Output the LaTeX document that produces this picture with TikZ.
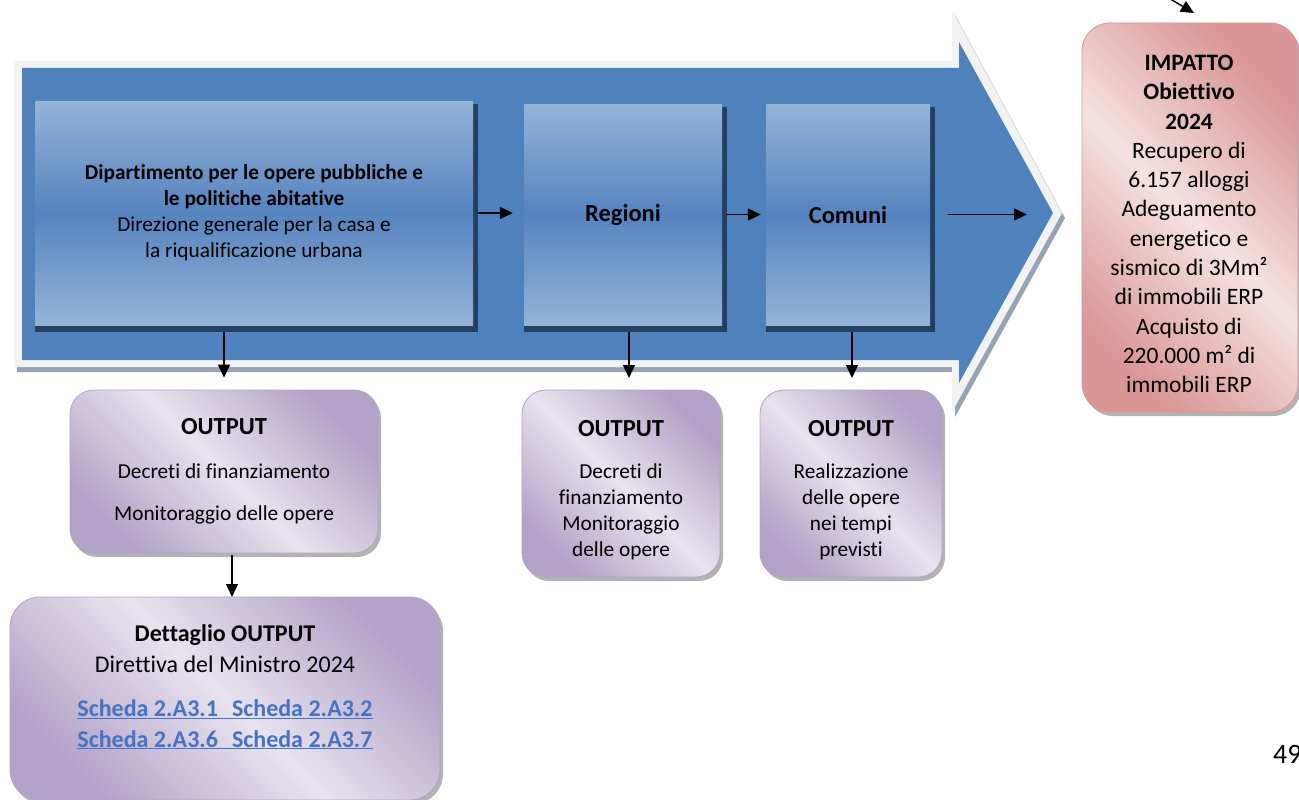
\documentclass[tikz,border=0pt]{standalone}
\usepackage{fontspec}
\setmainfont{Carlito}[Ligatures={NoCommon,NoRare}]
\usetikzlibrary{arrows.meta,shadows,calc}
\definecolor{arrowblue}{HTML}{4F81BD}
\definecolor{outl}{HTML}{F2F2F2}
\definecolor{outlsh}{HTML}{95A3B4}
\definecolor{boxlight}{HTML}{95B3D7}
\definecolor{boxmid}{HTML}{5683BF}
\definecolor{navy}{HTML}{243F60}
\definecolor{purpdark}{HTML}{B3A2C7}
\definecolor{purplight}{HTML}{E8E3EE}
\definecolor{pinkdark}{HTML}{D99694}
\definecolor{pinklight}{HTML}{F4E2E1}
\definecolor{linkblue}{HTML}{4472C4}
\newcommand\myfA{\fontsize{21.3}{26}\selectfont}
\newcommand\myfB{\fontsize{23.5}{29.3}\selectfont}
\newcommand\myfC{\fontsize{24}{30.5}\selectfont}
\newcommand\myfD{\fontsize{24.5}{26}\selectfont}
\begin{document}
\begin{tikzpicture}[x=1pt,y=-1pt,
  bluebox/.style={draw=none, top color=boxlight, bottom color=boxlight, middle color=boxmid, inner sep=0pt, align=center, font=\myfA},
  outbox/.style={rounded corners=24pt, draw=purpdark, line width=0.8pt, top color=purpdark, bottom color=purpdark, middle color=purplight, shading angle=-45, drop shadow={shadow xshift=3pt, shadow yshift=-4pt, fill=black, opacity=0.3}, align=center, inner sep=0pt, font=\myfA},
  impbox/.style={rounded corners=28pt, draw=pinkdark, line width=0.8pt, top color=pinkdark, bottom color=pinkdark, middle color=pinklight, shading angle=-45, drop shadow={shadow xshift=3pt, shadow yshift=-4pt, fill=black, opacity=0.3}, align=center, inner sep=0pt, font=\myfB},
  arr/.style={-{Triangle[length=13pt,width=12pt]}, line width=1.4pt, draw=black}
]
\useasboundingbox (0,0) rectangle (1299,800);

% big process arrow
\fill[outlsh] (17,66) -- (955,66) -- (955,15) -- (1065,218) -- (955,417) -- (955,372) -- (17,372) -- cycle;
\fill[outl] (14,61) -- (952,61) -- (952,10) -- (1062,213) -- (952,412) -- (952,367) -- (14,367) -- cycle;
\fill[arrowblue] (22,68) -- (959,68) -- (959,42) -- (1053,213) -- (959,383) -- (959,360) -- (22,360) -- cycle;

% inner box shadows
\fill[navy] (35,104) rectangle (478,332);
\fill[navy] (524,107) rectangle (727,332);
\fill[navy] (766,107) rectangle (935,332);

% inner boxes
\node[bluebox, minimum width=438pt, minimum height=224pt] (b1) at (254,213)
  {\textbf{Dipartimento per le opere pubbliche e}\\\textbf{le politiche abitative}\\Direzione generale per la casa e\\la riqualificazione urbana};
\node[bluebox, font=\myfD, minimum width=198pt, minimum height=221pt] (reg) at (623,214.5) {\textbf{Regioni}};
\node[bluebox, font=\myfD, minimum width=164pt, minimum height=221pt] (com) at (848,214.5) {\textbf{Comuni}};

% output boxes
\node[outbox, minimum width=308pt, minimum height=163pt] (o1) at (224,471.5)
  {{\myfD\textbf{OUTPUT}}\\[18pt]Decreti di finanziamento\\[16pt]Monitoraggio delle opere};
\node[outbox, minimum width=198pt, minimum height=187pt] (o2) at (621,483.5) {};
\node[align=center, font=\myfA, inner sep=0pt] (o2x) at (621,490)
  {{\myfD\textbf{OUTPUT}}\\[16pt]Decreti di\\finanziamento\\Monitoraggio\\delle opere};
\node[outbox, minimum width=182pt, minimum height=187pt] (o3) at (851,483.5) {};
\node[align=center, font=\myfA, inner sep=0pt] (o3x) at (851,490)
  {{\myfD\textbf{OUTPUT}}\\[16pt]Realizzazione\\delle opere\\nei tempi\\previsti};
\node[outbox, rounded corners=30pt, minimum width=430pt, minimum height=203pt] (dt) at (225,698.5) {};
\node[align=center, font=\myfC, inner sep=0pt] (dtx) at (225,687)
  {\textbf{Dettaglio OUTPUT}\\Direttiva del Ministro 2024\\[14pt]
   \textcolor{linkblue}{\textbf{\underline{Scheda 2.A3.1\hspace{14pt}Scheda 2.A3.2}}}\\
   \textcolor{linkblue}{\textbf{\underline{Scheda 2.A3.6\hspace{14pt}Scheda 2.A3.7}}}};

% impact box
\node[impbox, minimum width=216pt, minimum height=389pt] (imp) at (1190,217.5) {};
\node[align=center, font=\myfB, inner sep=0pt] (impx) at (1189,224)
  {\textbf{IMPATTO}\\\textbf{Obiettivo}\\\textbf{2024}\\Recupero di\\6.157 alloggi\\Adeguamento\\energetico e\\sismico di 3Mm²\\di immobili ERP\\Acquisto di\\220.000 m² di\\immobili ERP};

% connectors
\coordinate (tipend) at (1027,214.5);
\coordinate (rd) at (629,378);
\coordinate (cd) at (852,378);
\coordinate (od) at (232,597);
\coordinate (src) at (1155,-10);
\coordinate (imptip) at (1194,13);
\draw[arr, shorten <=5pt, shorten >=11pt] (b1.east) -- (b1.east -| reg.west);
\draw[arr, shorten <=5pt, shorten >=5pt] (reg.east) -- (com.west);
\draw[arr, shorten <=18pt] (com.east) -- (tipend);
\draw[arr, shorten <=7pt] (b1.south -| o1.north) -- ([yshift=12pt]o1.north);
\draw[arr, shorten <=7pt] (reg.south -| rd) -- (rd);
\draw[arr, shorten <=7pt] (com.south -| cd) -- (cd);
\draw[arr, shorten <=2pt] (o1.south -| od) -- (od);
\draw[arr] (src) -- (imptip);

% page number
\node[font=\fontsize{28}{30}\selectfont, anchor=base west, inner sep=0pt] (pg) at (1273,763) {49};
\end{tikzpicture}
\end{document}
